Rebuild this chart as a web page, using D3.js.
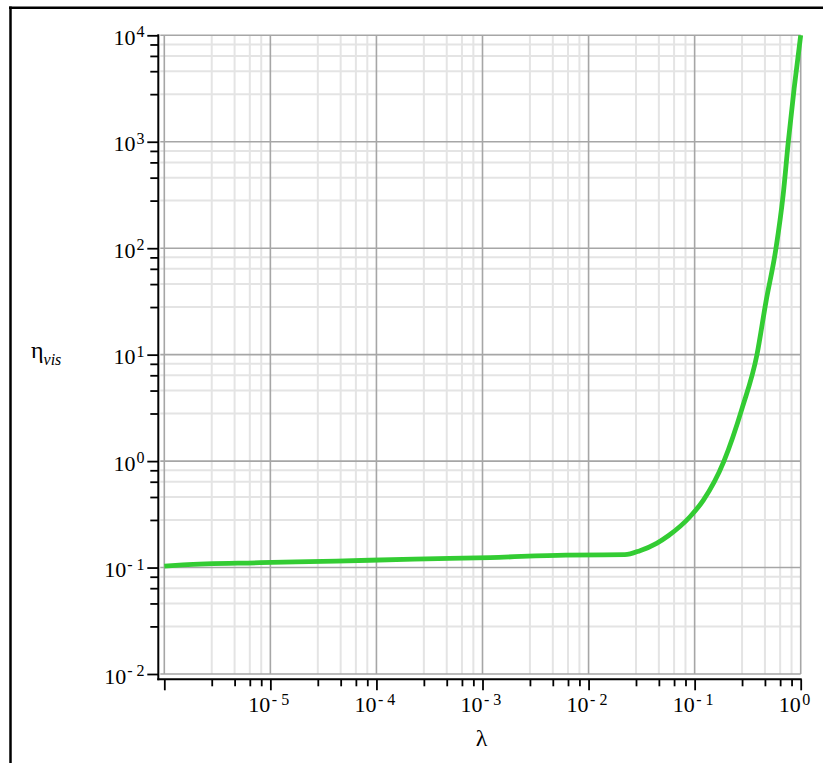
<!DOCTYPE html>
<html>
<head>
<meta charset="utf-8">
<script src="https://cdn.jsdelivr.net/npm/d3@7/dist/d3.min.js"></script>
<style>
  html, body { margin: 0; padding: 0; background: #fff; }
  svg { display: block; }
</style>
</head>
<body>
<svg id="chart" width="823" height="763"></svg>
<script>
// ---- data ----
const lambdaValues = [1e-6, 1.5e-6, 8e-6, 4.2e-5, 2.26e-4, 1.18e-3, 6.1e-3, 0.022, 0.0305, 0.0438, 0.0569, 0.0904, 0.121, 0.189, 0.281, 0.387, 0.471, 0.585, 0.683, 0.764, 0.867, 1.0];
const etaValues    = [0.1033, 0.106, 0.111, 0.115, 0.120, 0.124, 0.131, 0.132, 0.144, 0.169, 0.20, 0.30, 0.43, 1.0, 3.16, 10, 31.6, 100, 316, 1000, 3162, 10000];

const xMajorTicks = [1e-6, 1e-5, 1e-4, 1e-3, 1e-2, 1e-1, 1];
const xTickLabelValues = [1e-5, 1e-4, 1e-3, 1e-2, 1e-1, 1];
const xTickExponents = ["- 5", "- 4", "- 3", "- 2", "- 1", "0"];
const yMajorTicks = [1e-2, 1e-1, 1, 10, 100, 1000, 10000];
const yTickExponents = ["- 2", "- 1", "0", "1", "2", "3", "4"];
const minorFactors = [2.8, 4.6, 6.4, 8.2];
const xTitle = "λ";
const yTitleMain = "η";
const yTitleSub = "vis";

// ---- scales ----
const svg = d3.select("#chart");
const x = d3.scaleLog().domain([1e-6, 1]).range([164.3, 800.7]);
const y = d3.scaleLog().domain([1e-2, 1e4]).range([674, 35.3]);

function minorOf(majors) {
  const out = [];
  majors.slice(0, -1).forEach(m => minorFactors.forEach(f => out.push(m * f)));
  return out;
}
const xMinor = minorOf(xMajorTicks);
const yMinor = minorOf(yMajorTicks);

const [x0, x1] = x.range();
const [yb, yt] = y.range();

// ---- frame ----
svg.append("line").attr("x1", 10.5).attr("x2", 10.5).attr("y1", 6.5).attr("y2", 763)
  .attr("stroke", "#000").attr("stroke-width", 2.5);
svg.append("line").attr("x1", 9).attr("x2", 823).attr("y1", 7.8).attr("y2", 7.8)
  .attr("stroke", "#000").attr("stroke-width", 2.5);

// ---- grid ----
const grid = svg.append("g");
grid.selectAll(".vminor").data(xMinor).join("line")
  .attr("x1", d => x(d)).attr("x2", d => x(d)).attr("y1", yt).attr("y2", yb)
  .attr("stroke", "#e4e4e4").attr("stroke-width", 2);
grid.selectAll(".hminor").data(yMinor).join("line")
  .attr("x1", x0 - 4).attr("x2", x1).attr("y1", d => y(d)).attr("y2", d => y(d))
  .attr("stroke", "#e4e4e4").attr("stroke-width", 2);
grid.selectAll(".vmajor").data(xMajorTicks).join("line")
  .attr("x1", d => x(d)).attr("x2", d => x(d)).attr("y1", yt).attr("y2", yb)
  .attr("stroke", "#a6a6a6").attr("stroke-width", 1.6);
grid.selectAll(".hmajor").data(yMajorTicks).join("line")
  .attr("x1", x0 - 4).attr("x2", x1).attr("y1", d => y(d)).attr("y2", d => y(d))
  .attr("stroke", "#a6a6a6").attr("stroke-width", 1.6);

// ---- axes ----
const axisY = 679.3, axisX = 158.3;
const xAxisMajor = d3.axisBottom(x).tickValues(xMajorTicks).tickFormat("").tickSize(11).tickSizeOuter(0);
const xAxisMinor = d3.axisBottom(x).tickValues(xMinor).tickFormat("").tickSize(7).tickSizeOuter(0);
const yAxisMajor = d3.axisLeft(y).tickValues(yMajorTicks).tickFormat("").tickSize(11).tickSizeOuter(0);
const yAxisMinor = d3.axisLeft(y).tickValues(yMinor).tickFormat("").tickSize(8).tickSizeOuter(0);

function styleAxis(g) {
  g.select(".domain").remove();
  g.selectAll(".tick line").attr("stroke", "#000").attr("stroke-width", 1.8);
}
svg.append("g").attr("transform", `translate(0,${axisY})`).call(xAxisMajor).call(styleAxis);
svg.append("g").attr("transform", `translate(0,${axisY})`).call(xAxisMinor).call(styleAxis);
svg.append("g").attr("transform", `translate(${axisX},0)`).call(yAxisMajor).call(styleAxis);
svg.append("g").attr("transform", `translate(${axisX},0)`).call(yAxisMinor).call(styleAxis);

svg.append("line").attr("x1", axisX - 1).attr("x2", x1 + 1).attr("y1", axisY).attr("y2", axisY)
  .attr("stroke", "#000").attr("stroke-width", 2);
svg.append("line").attr("x1", axisX).attr("x2", axisX).attr("y1", yt - 1).attr("y2", axisY + 1)
  .attr("stroke", "#000").attr("stroke-width", 2);

// ---- tick labels ----
const font = "'Liberation Serif', 'Times New Roman', serif";
const xl = svg.append("g").attr("font-family", font).attr("fill", "#000");
xTickLabelValues.forEach((v, i) => {
  xl.append("text").attr("x", x(v)).attr("y", 712).attr("text-anchor", "end")
    .attr("font-size", 22).text("10");
  xl.append("text").attr("x", x(v) + 1.5).attr("y", 704.5).attr("text-anchor", "start")
    .attr("font-size", 16).text(xTickExponents[i]);
});
const yl = svg.append("g").attr("font-family", font).attr("fill", "#000");
yMajorTicks.forEach((v, i) => {
  const t = yl.append("text").attr("x", 144.5).attr("y", y(v) + 9.5).attr("text-anchor", "end");
  t.append("tspan").attr("font-size", 22).text("10");
  t.append("tspan").attr("font-size", 16).attr("dx", 1).attr("dy", -7.5).text(yTickExponents[i]);
});

// ---- axis titles ----
svg.append("text").attr("x", (x0 + x1) / 2 - 1).attr("y", 746).attr("text-anchor", "middle")
  .attr("font-family", font).attr("font-size", 24).text(xTitle);
const yt2 = svg.append("text").attr("x", 31).attr("y", 358).attr("font-family", font);
yt2.append("tspan").attr("font-size", 24).text(yTitleMain);
yt2.append("tspan").attr("font-size", 16).attr("font-style", "italic").attr("dy", 7).text(yTitleSub);

// ---- curve ----
const line = d3.line().x((d, i) => x(lambdaValues[i])).y(d => y(d)).curve(d3.curveMonotoneX);
svg.append("path").datum(etaValues).attr("d", line)
  .attr("fill", "none").attr("stroke", "#33cc33").attr("stroke-width", 4.8)
  .attr("stroke-linejoin", "round");
</script>
</body>
</html>
